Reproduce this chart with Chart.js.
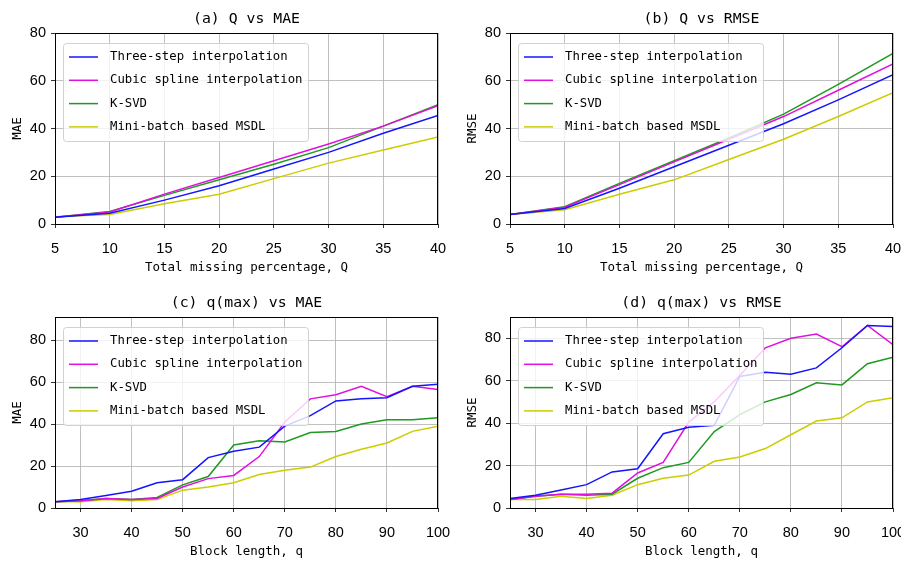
<!DOCTYPE html>
<html>
<head>
<meta charset="utf-8">
<script src="https://cdn.jsdelivr.net/npm/chart.js@4/dist/chart.umd.min.js"></script>
<style>
  body { margin: 0; background: #fff; }
  #wrap { position: relative; width: 901px; height: 563px; overflow: hidden; }
  .panel { position: absolute; width: 452px; height: 282px; }
</style>
</head>
<body>
<div id="wrap">
  <div class="panel" style="left:0;top:0"><canvas id="chartA" width="452" height="282"></canvas></div>
  <div class="panel" style="left:455px;top:0"><canvas id="chartB" width="452" height="282"></canvas></div>
  <div class="panel" style="left:0;top:284px"><canvas id="chartC" width="452" height="282"></canvas></div>
  <div class="panel" style="left:455px;top:284px"><canvas id="chartD" width="452" height="282"></canvas></div>
</div>
<script>
// x values
const totalMissing = [5, 10, 15, 20, 25, 30, 35, 40];
const blockLength = [25, 30, 35, 40, 45, 50, 55, 60, 65, 70, 75, 80, 85, 90, 95, 100];

// tick labels
const qTicks = [5, 10, 15, 20, 25, 30, 35, 40];
const blockTicks = [30, 40, 50, 60, 70, 80, 90, 100];
const errTicks = [0, 20, 40, 60, 80];

const methodNames = ['Three-step interpolation', 'Cubic spline interpolation', 'K-SVD', 'Mini-batch based MSDL'];
const methodColors = ['#1414ff', '#e010e0', '#1f991f', '#cccc00'];

// (a) Q vs MAE
const maeQ_threeStep = [2.8, 4.5, 10, 16, 23, 30, 38, 45.5];
const maeQ_cubic     = [2.8, 5.0, 12.5, 19.5, 26.5, 33.5, 41, 49.5];
const maeQ_ksvd      = [2.8, 5.2, 12, 18.5, 25, 32, 41, 50];
const maeQ_msdl      = [3.0, 4.0, 8.5, 12.5, 19, 25.5, 31, 36.5];

// (b) Q vs RMSE
const rmseQ_threeStep = [4, 6.5, 15, 24, 33, 42, 52, 62.5];
const rmseQ_cubic     = [4, 7, 16.5, 26, 35.5, 45, 56, 67];
const rmseQ_ksvd      = [4, 7.2, 17, 26.5, 36, 46, 58.5, 71.5];
const rmseQ_msdl      = [4, 6, 12.5, 18.5, 27, 35.5, 45, 55];

// (c) q(max) vs MAE
const maeq_threeStep = [3, 4, 6, 8, 12, 13.5, 24, 27, 29, 39, 44, 51, 52, 52.5, 58, 59];
const maeq_cubic     = [3, 3.5, 4.5, 4, 4.5, 10, 14, 15.5, 24.5, 41, 52, 54, 58, 53, 58, 56.5];
const maeq_ksvd      = [3, 3.5, 4.5, 4, 5, 11, 15, 30, 32, 31.5, 36, 36.5, 40, 42, 42, 43];
const maeq_msdl      = [3, 3, 4, 3.5, 4, 8.5, 10, 12, 16, 18, 19.5, 24.5, 28, 31, 36.5, 39];

// (d) q(max) vs RMSE
const rmseq_threeStep = [4.5, 6, 8.5, 11, 17, 18.5, 35, 38, 39, 62, 64, 63, 66, 75.5, 86, 85.5];
const rmseq_cubic     = [4, 5.5, 6.5, 6.5, 7, 16.5, 21.5, 40.5, 50, 62.5, 75.5, 80, 82, 76, 86, 77];
const rmseq_ksvd      = [4, 5.5, 6.5, 6, 6.5, 14, 19, 21.5, 36, 44, 50, 53.5, 59, 58, 68, 71];
const rmseq_msdl      = [4, 4, 5.5, 4.5, 6, 11, 14, 15.5, 22, 24, 28, 34.5, 41, 42.5, 50, 52];

const monoFont = "'DejaVu Sans Mono', monospace";
const tickFont = "'Liberation Sans', sans-serif";

function pairs(xs, ys) {
    return xs.map((x, i) => ({ x: x, y: ys[i] }));
}

// title, frame and legend drawn over the plot area
const panelDeco = {
    id: 'panelDeco',
    afterDatasetsDraw(chart, args, opts) {
        const ctx = chart.ctx;
        const a = chart.chartArea;
        ctx.save();
        // frame
        ctx.strokeStyle = '#000';
        ctx.lineWidth = 1;
        ctx.strokeRect(a.left + 0.5, a.top + 0.5, a.right - a.left - 1, a.bottom - a.top);
        // legend box
        const bx = a.left + 8, by = a.top + 10, bw = 245, bh = 98;
        ctx.fillStyle = 'rgba(255,255,255,0.8)';
        ctx.strokeStyle = 'rgba(204,204,204,0.9)';
        ctx.beginPath();
        ctx.roundRect(bx + 0.5, by + 0.5, bw, bh, 3);
        ctx.fill();
        ctx.stroke();
        ctx.font = '12.3px ' + monoFont;
        ctx.textBaseline = 'middle';
        ctx.textAlign = 'left';
        chart.data.datasets.forEach((ds, i) => {
            const y = by + 14 + i * 23.3;
            ctx.strokeStyle = ds.borderColor;
            ctx.lineWidth = 1.5;
            ctx.beginPath();
            ctx.moveTo(bx + 6, y);
            ctx.lineTo(bx + 35, y);
            ctx.stroke();
            ctx.fillStyle = '#000';
            ctx.fillText(ds.label, bx + 47, y);
        });
        // title
        ctx.font = '14.8px ' + monoFont;
        ctx.textAlign = 'center';
        ctx.fillStyle = '#000';
        ctx.fillText(opts.text, (a.left + a.right) / 2, 19);
        ctx.restore();
    }
};

function makeChart(id, title, xs, series, xOpts, yMax, yLabel, xLabel) {
    const datasets = series.map((ys, i) => ({
        label: methodNames[i],
        data: pairs(xs, ys),
        borderColor: methodColors[i],
        borderWidth: 1.5,
        pointRadius: 0,
        tension: 0,
        fill: false
    }));
    return new Chart(document.getElementById(id).getContext('2d'), {
        type: 'line',
        data: { datasets: datasets },
        plugins: [panelDeco],
        options: {
            responsive: false,
            animation: false,
            devicePixelRatio: 1,
            layout: { padding: { top: 33, right: 14, left: 0, bottom: 0 } },
            plugins: {
                legend: { display: false },
                tooltip: { enabled: false },
                panelDeco: { text: title }
            },
            scales: {
                x: {
                    type: 'linear',
                    min: xOpts.min,
                    max: xOpts.max,
                    ticks: {
                        color: '#000',
                        font: { family: tickFont, size: 14.5 },
                        padding: 12,
                        maxRotation: 0
                    },
                    afterBuildTicks: (s) => { s.ticks = xOpts.ticks.map(v => ({ value: v })); },
                    afterFit: (s) => { s.height = 58; s.paddingLeft = 0; s.paddingRight = 0; },
                    grid: { color: '#b0b0b0', lineWidth: 0.8, tickColor: '#000', tickLength: 4 },
                    border: { display: false },
                    title: {
                        display: true,
                        text: xLabel,
                        color: '#000',
                        font: { family: monoFont, size: 12.5 },
                        padding: { top: 0, bottom: 7 }
                    }
                },
                y: {
                    min: 0,
                    max: yMax,
                    ticks: {
                        color: '#000',
                        font: { family: tickFont, size: 14.5 },
                        padding: 5
                    },
                    afterBuildTicks: (s) => { s.ticks = errTicks.map(v => ({ value: v })); },
                    afterFit: (s) => { s.width = 55; },
                    grid: { color: '#b0b0b0', lineWidth: 0.8, tickColor: '#000', tickLength: 4 },
                    border: { display: false },
                    title: {
                        display: true,
                        text: yLabel,
                        color: '#000',
                        font: { family: monoFont, size: 12.5 },
                        padding: { top: 10, bottom: 0 }
                    }
                }
            }
        }
    });
}

const qAxis = { min: 5, max: 40, ticks: qTicks };
const blockAxis = { min: 25, max: 100, ticks: blockTicks };

makeChart('chartA', '(a) Q vs MAE', totalMissing,
    [maeQ_threeStep, maeQ_cubic, maeQ_ksvd, maeQ_msdl], qAxis, 80, 'MAE', 'Total missing percentage, Q');
makeChart('chartB', '(b) Q vs RMSE', totalMissing,
    [rmseQ_threeStep, rmseQ_cubic, rmseQ_ksvd, rmseQ_msdl], qAxis, 80, 'RMSE', 'Total missing percentage, Q');
makeChart('chartC', '(c) q(max) vs MAE', blockLength,
    [maeq_threeStep, maeq_cubic, maeq_ksvd, maeq_msdl], blockAxis, 91, 'MAE', 'Block length, q');
makeChart('chartD', '(d) q(max) vs RMSE', blockLength,
    [rmseq_threeStep, rmseq_cubic, rmseq_ksvd, rmseq_msdl], blockAxis, 90, 'RMSE', 'Block length, q');
</script>
</body>
</html>
